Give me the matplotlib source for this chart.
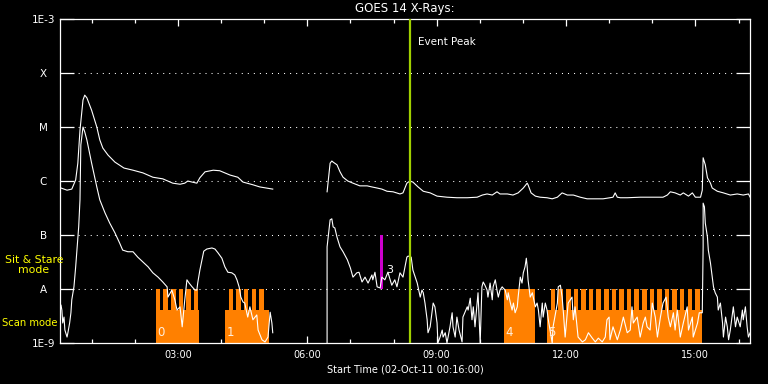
import numpy as np
import matplotlib
matplotlib.use("Agg")
from matplotlib import pyplot as plt
from matplotlib.ticker import FixedLocator, NullLocator

# GOES 14 X-ray flux, hours after 02-Oct-11 00:00, values as log10(W/m^2)
# nan marks the data gap around 05:30-06:25
long_hours = [0.29, 0.43, 0.54, 0.63, 0.68, 0.73, 0.80, 0.84, 0.89, 1.00, 1.12, 1.19, 1.26, 1.38,
              1.54, 1.75, 1.96, 2.19, 2.42, 2.65, 2.88, 3.05, 3.16, 3.23, 3.33, 3.44, 3.51, 3.63,
              3.82, 3.97, 4.21, 4.39, 4.51, 4.74, 4.90, 5.20, 5.80,
              6.46, 6.53, 6.57, 6.60, 6.69, 6.76, 6.83, 6.94, 7.06, 7.22, 7.39, 7.50, 7.62, 7.73,
              7.85, 7.99, 8.15, 8.22, 8.31, 8.38, 8.45, 8.57, 8.69, 8.85, 9.01, 9.24, 9.47, 9.71,
              9.94, 10.06, 10.17, 10.29, 10.40, 10.47, 10.64, 10.77, 10.89, 11.01, 11.10, 11.12,
              11.19, 11.29, 11.40, 11.56, 11.68, 11.80, 11.91, 12.03, 12.17, 12.33, 12.49, 12.72,
              12.86, 13.02, 13.09, 13.14, 13.19, 13.26, 13.42, 13.72, 14.12, 14.25, 14.35, 14.42,
              14.53, 14.65, 14.72, 14.84, 14.93, 15.00, 15.12, 15.16, 15.18, 15.23, 15.28, 15.35,
              15.39, 15.51, 15.65, 15.81, 15.97, 16.11, 16.23, 16.27]
long_logflux = [-6.13, -6.17, -6.15, -5.98, -5.67, -5.06, -4.50, -4.41, -4.46, -4.69, -5.00, -5.24,
                -5.39, -5.52, -5.65, -5.76, -5.80, -5.85, -5.93, -5.96, -6.04, -6.06, -6.04, -6.00,
                -6.02, -6.04, -5.94, -5.83, -5.80, -5.81, -5.89, -5.93, -6.02, -6.07, -6.11, -6.15,
                np.nan,
                -6.20, -5.67, -5.63, -5.65, -5.70, -5.83, -5.93, -6.00, -6.04, -6.09, -6.09, -6.11,
                -6.13, -6.15, -6.19, -6.20, -6.24, -6.22, -6.04, -6.00, -6.02, -6.11, -6.19, -6.22,
                -6.28, -6.30, -6.31, -6.31, -6.30, -6.26, -6.24, -6.26, -6.20, -6.24, -6.24, -6.26,
                -6.22, -6.13, -6.04, -6.07, -6.22, -6.28, -6.30, -6.31, -6.33, -6.30, -6.22, -6.26,
                -6.26, -6.30, -6.33, -6.33, -6.33, -6.31, -6.30, -6.22, -6.30, -6.31, -6.31, -6.30,
                -6.30, -6.30, -6.26, -6.20, -6.22, -6.26, -6.22, -6.28, -6.22, -6.30, -6.30, -6.17,
                -5.57, -5.70, -5.94, -6.04, -6.13, -6.19, -6.22, -6.26, -6.24, -6.26, -6.24, -6.30]

short_hours = [0.29, 0.31, 0.33, 0.36, 0.38, 0.43, 0.45, 0.49, 0.52, 0.54, 0.59, 0.63, 0.66, 0.70,
               0.73, 0.75, 0.80, 0.84, 0.89, 1.00, 1.12, 1.19, 1.31, 1.42, 1.54, 1.65, 1.72, 1.84,
               1.96, 2.07, 2.19, 2.31, 2.42, 2.54, 2.65, 2.75, 2.77, 2.86, 2.93, 2.98, 3.05, 3.10,
               3.16, 3.21, 3.26, 3.33, 3.40, 3.44, 3.46, 3.51, 3.56, 3.60, 3.67, 3.79, 3.86, 3.93,
               4.02, 4.09, 4.16, 4.25, 4.32, 4.37, 4.42, 4.46, 4.51, 4.55, 4.62, 4.67, 4.74, 4.83,
               4.86, 4.95, 5.02, 5.09, 5.14, 5.18, 5.20, 5.80,
               6.46, 6.46, 6.53, 6.57, 6.60, 6.64, 6.69, 6.76, 6.83, 6.93, 7.00, 7.06, 7.15, 7.20,
               7.27, 7.34, 7.41, 7.50, 7.52, 7.57, 7.62, 7.69, 7.73, 7.80, 7.87, 7.96, 8.03, 8.08,
               8.15, 8.22, 8.31, 8.34, 8.41, 8.45, 8.55, 8.62, 8.66, 8.69, 8.73, 8.78, 8.80, 8.85,
               8.92, 8.96, 9.01, 9.03, 9.08, 9.13, 9.15, 9.20, 9.24, 9.31, 9.36, 9.38, 9.43, 9.47,
               9.52, 9.59, 9.61, 9.71, 9.73, 9.78, 9.82, 9.85, 9.89, 9.94, 9.96, 10.01, 10.05,
               10.08, 10.12, 10.17, 10.19, 10.24, 10.29, 10.31, 10.36, 10.40, 10.43, 10.47, 10.52,
               10.54, 10.59, 10.64, 10.66, 10.71, 10.75, 10.78, 10.82, 10.87, 10.89, 10.94, 10.98,
               11.01, 11.05, 11.08, 11.10, 11.12, 11.17, 11.22, 11.24, 11.29, 11.33, 11.36, 11.40,
               11.45, 11.47, 11.52, 11.56, 11.59, 11.63, 11.68, 11.70, 11.80, 11.82, 11.87, 11.91,
               11.94, 11.98, 12.05, 12.14, 12.17, 12.21, 12.28, 12.38, 12.45, 12.52, 12.61, 12.68,
               12.75, 12.84, 12.91, 12.95, 13.00, 13.02, 13.09, 13.19, 13.26, 13.33, 13.42, 13.49,
               13.53, 13.56, 13.65, 13.72, 13.79, 13.84, 13.88, 13.95, 14.00, 14.07, 14.12, 14.19,
               14.25, 14.32, 14.37, 14.42, 14.49, 14.53, 14.58, 14.60, 14.65, 14.72, 14.81, 14.84,
               14.93, 14.95, 15.05, 15.09, 15.16, 15.18, 15.18, 15.21, 15.23, 15.28, 15.30, 15.35,
               15.39, 15.42, 15.46, 15.51, 15.53, 15.58, 15.63, 15.65, 15.70, 15.74, 15.77, 15.81,
               15.88, 15.93, 15.97, 16.04, 16.09, 16.11, 16.16, 16.20, 16.23, 16.27]
short_logflux = [-8.30, -8.39, -8.63, -8.52, -8.76, -8.89, -8.81, -8.63, -8.44, -8.20, -7.96, -7.59,
                 -7.28, -6.85, -6.35, -5.33, -5.00, -5.09, -5.24, -5.67, -6.11, -6.35, -6.59, -6.78,
                 -6.96, -7.15, -7.28, -7.31, -7.31, -7.41, -7.50, -7.59, -7.70, -7.78, -7.87, -7.96,
                 -8.15, -8.02, -8.20, -8.39, -8.33, -8.70, -8.20, -7.83, -7.89, -7.96, -8.02, -8.02,
                 -7.89, -7.65, -7.46, -7.30, -7.26, -7.24, -7.26, -7.33, -7.43, -7.59, -7.69, -7.70,
                 -7.74, -7.83, -7.96, -8.15, -8.24, -8.26, -8.52, -8.33, -8.57, -8.48, -8.76, -8.94,
                 -8.98, -8.89, -8.43, -8.63, -8.81, np.nan,
                 -9.00, -7.22, -6.72, -6.70, -6.85, -6.87, -7.04, -7.22, -7.31, -7.46, -7.61, -7.78,
                 -7.70, -7.69, -7.87, -7.78, -7.89, -7.74, -7.83, -7.69, -7.96, -7.98, -7.78, -7.83,
                 -7.69, -7.93, -7.83, -7.96, -7.70, -7.78, -7.41, -7.39, -7.41, -7.65, -7.89, -8.15,
                 -8.02, -8.07, -8.26, -8.57, -8.81, -8.70, -8.26, -8.33, -8.63, -9.00, -8.89, -8.76,
                 -8.89, -8.81, -9.00, -8.70, -8.44, -8.70, -8.89, -8.52, -8.76, -8.98, -8.52, -8.33,
                 -8.39, -8.17, -8.57, -8.33, -8.70, -8.26, -8.07, -9.00, -7.96, -7.87, -7.93, -8.02,
                 -8.15, -7.89, -8.20, -7.96, -7.83, -8.02, -8.15, -8.02, -7.96, -7.98, -8.02, -8.20,
                 -8.07, -8.26, -8.39, -8.26, -8.44, -8.33, -8.15, -7.78, -7.89, -7.70, -7.59, -7.43,
                 -7.59, -7.83, -8.15, -8.07, -8.15, -8.33, -8.26, -8.39, -8.70, -8.26, -8.52, -8.26,
                 -8.39, -8.57, -8.76, -9.00, -8.70, -8.26, -7.96, -7.93, -8.15, -8.44, -8.89, -8.26,
                 -8.15, -8.57, -8.33, -8.89, -8.98, -8.94, -8.81, -8.91, -8.98, -8.91, -8.98, -8.89,
                 -8.57, -8.52, -8.94, -8.70, -8.94, -8.76, -8.52, -8.81, -8.76, -8.33, -8.63, -8.52,
                 -8.89, -8.63, -8.52, -8.70, -8.76, -8.26, -8.52, -8.89, -8.52, -8.26, -8.15, -8.52,
                 -8.70, -8.44, -8.76, -8.39, -8.52, -8.89, -8.63, -8.33, -8.76, -8.52, -8.89, -8.63,
                 -8.44, -8.44, -7.22, -6.41, -6.48, -6.78, -7.04, -7.28, -7.52, -7.78, -7.96, -8.07,
                 -8.15, -8.39, -8.26, -8.63, -8.89, -8.52, -8.70, -8.94, -8.76, -8.33, -8.70, -8.52,
                 -8.70, -8.39, -8.57, -8.33, -8.70, -8.89, -8.81]

# instrument rasters (hours): start, end, label, comb teeth, first tooth
raster_start = [2.49, 4.09, 7.69, 10.56, 11.56]
raster_end = [3.49, 5.11, 7.76, 11.28, 15.15]
raster_label = ["0", "1", "3", "4", "5"]
raster_teeth = [6, 5, 0, 0, 20]
raster_first_tooth = [2.49, 4.18, 0, 0, 11.65]
raster_top = [-8.39, -8.39, -7.0, -8.0, -8.39]
raster_bottom = [-9.0, -9.0, -8.0, -9.0, -9.0]
raster_color = ["#ff8000", "#ff8000", "#cc00cc", "#ff8000", "#ff8000"]
tooth_step = 0.176
tooth_width = 0.105

event_peak = 8.38
goes_levels = [-9, -8, -7, -6, -5, -4, -3]
goes_names = ["1E-9", "A", "B", "C", "M", "X", "1E-3"]
hour_major = [3, 6, 9, 12, 15]
hour_labels = ["03:00", "06:00", "09:00", "12:00", "15:00"]
t_start = 16 / 60.0
t_end = 16 + 16 / 60.0

W, H = 768, 384
fig = plt.figure(figsize=(W / 100, H / 100), dpi=100, facecolor="black")
ax = fig.add_axes([60 / W, 41 / H, 690 / W, 324 / H])
ax.set_facecolor("black")
ax.set_yscale("log")
ax.set_xlim(t_start, t_end)
ax.set_ylim(1e-9, 1e-3)

# dotted class levels
for lev in goes_levels[1:-1]:
    ax.axhline(10.0 ** lev, color="white", lw=0.75, ls=(0, (1, 4.8)), zorder=1)

# raster blocks (scan = comb, sit & stare = solid bar)
for i in range(len(raster_start)):
    lo, hi = 10.0 ** raster_bottom[i], 10.0 ** raster_top[i]
    ax.bar(raster_start[i], hi - lo, bottom=lo, width=raster_end[i] - raster_start[i],
           align="edge", color=raster_color[i], lw=0, zorder=2)
    if raster_teeth[i] > 0:
        teeth = raster_first_tooth[i] + tooth_step * np.arange(raster_teeth[i])
        ax.bar(teeth, 1e-8 - 1e-9, bottom=1e-9, width=tooth_width, align="edge",
               color=raster_color[i], lw=0, zorder=2)
    if raster_color[i] == "#cc00cc":
        ax.text(raster_end[i] + 0.06, 10 ** -7.55, raster_label[i], color="white",
                fontsize=8, ha="left", va="top", zorder=4)
    else:
        ax.text(raster_start[i] + 0.03, 10 ** -8.93, raster_label[i], color="#ffeedd",
                fontsize=8.5, ha="left", va="bottom", zorder=4)

ax.plot(long_hours, np.power(10.0, long_logflux), color="white", lw=0.8, zorder=3)
ax.plot(short_hours, np.power(10.0, short_logflux), color="white", lw=0.8, zorder=3)

ax.axvline(event_peak, color="#a0d000", lw=1.6, zorder=3)
ax.text(event_peak + 0.19, 10 ** -3.43, "Event Peak", color="white", fontsize=7.5,
        ha="left", va="center")

# axes styling
for sp in ax.spines.values():
    sp.set_color("white")
    sp.set_linewidth(0.9)
ax.yaxis.set_major_locator(FixedLocator([10.0 ** v for v in goes_levels]))
ax.yaxis.set_minor_locator(NullLocator())
ax.set_yticklabels(goes_names, ha="center")
ax.tick_params(axis="y", which="major", direction="in", length=10, width=0.9, color="white",
               left=True, right=True, labelcolor="white", labelsize=7.5, pad=12)
ax.xaxis.set_major_locator(FixedLocator(hour_major))
ax.xaxis.set_minor_locator(FixedLocator(range(1, 17)))
ax.set_xticklabels(hour_labels)
ax.tick_params(axis="x", which="major", direction="in", length=4.8, width=0.9, color="white",
               top=True, bottom=True, labelcolor="white", labelsize=7, pad=5)
ax.tick_params(axis="x", which="minor", direction="in", length=2.9, width=0.9, color="white",
               top=True, bottom=True)

ax.set_title("GOES 14 X-Rays:", color="white", fontsize=8.5, pad=5)
ax.set_xlabel("Start Time (02-Oct-11 00:16:00)", color="white", fontsize=7, labelpad=3)

fig.text(34 / W, 1 - 265 / H, "Sit & Stare\nmode", color="#ffff00", fontsize=7.8,
         ha="center", va="center", linespacing=1.1)
fig.text(2 / W, 1 - 323 / H, "Scan mode", color="#ffff00", fontsize=7.2, ha="left", va="center")

fig.savefig("out.png", dpi=100, facecolor="black")
